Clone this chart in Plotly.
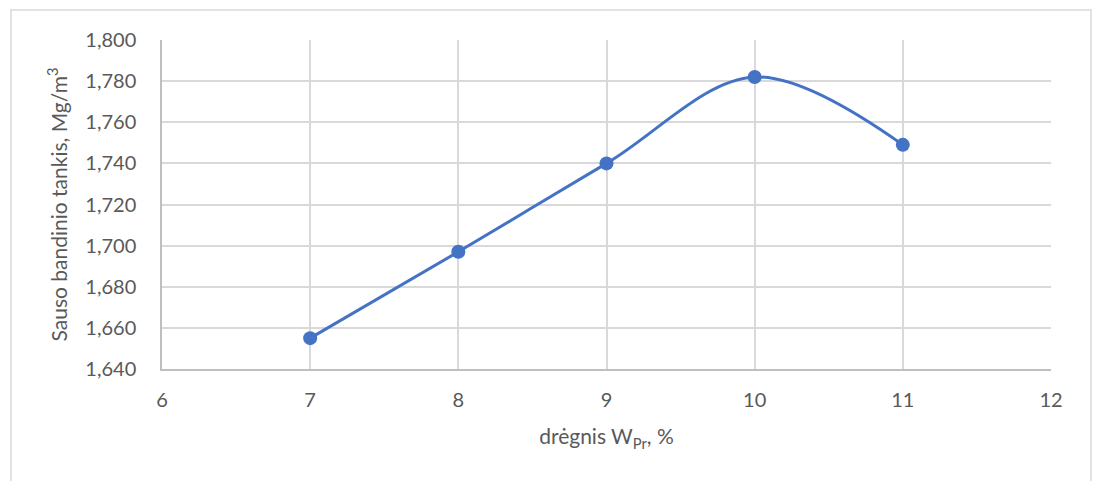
import plotly.graph_objects as go

# Moisture content (%) and dry density (Mg/m3)
moisture = [7, 8, 9, 10, 11]
dry_density = [1.655, 1.697, 1.740, 1.782, 1.749]

x_ticks = [6, 7, 8, 9, 10, 11, 12]
y_ticks = [1.640, 1.660, 1.680, 1.700, 1.720, 1.740, 1.760, 1.780, 1.800]

W, H = 1093, 481
L, R, T, B = 162, 42, 40, 112
pw, ph = W - L - R, H - T - B

def px_to_paper_x(px):
    return (px - L) / pw

def px_to_paper_y(py):
    return (H - B - py) / ph

font_family = "Lato, 'Open Sans', sans-serif"
text_col = "#595959"
grid_col = "#d9d9d9"

fig = go.Figure()
fig.add_trace(go.Scatter(
    x=moisture, y=dry_density,
    mode="lines+markers",
    line=dict(color="#4472C4", width=3, shape="spline", smoothing=1.0),
    marker=dict(color="#4472C4", size=14),
    showlegend=False,
))

fig.update_layout(
    width=W, height=H,
    margin=dict(l=L, r=R, t=T, b=B),
    paper_bgcolor="white", plot_bgcolor="white",
    separators=",.",
    font=dict(family=font_family, color=text_col, size=20),
    xaxis=dict(
        range=[6, 12], tickvals=x_ticks, ticktext=[str(v) for v in x_ticks],
        tickfont=dict(size=20, color=text_col),
        showgrid=True, gridcolor=grid_col, gridwidth=1.5,
        zeroline=False, showline=True, linecolor="#bfbfbf", linewidth=1.5,
        ticks="", ticklabelstandoff=12,
        title=dict(text="drėgnis W<sub>Pr</sub>, %", font=dict(size=21, color=text_col), standoff=20),
    ),
    yaxis=dict(
        range=[1.640, 1.800], tickvals=y_ticks, tickformat=".3f",
        tickfont=dict(size=20, color=text_col),
        showgrid=True, gridcolor=grid_col, gridwidth=1.5,
        zeroline=False, showline=True, linecolor="#bfbfbf", linewidth=1.5,
        ticks="", ticklabelstandoff=20,
        title=dict(text="Sauso bandinio tankis, Mg/m<sup>3</sup>", font=dict(size=21, color=text_col), standoff=12),
    ),
    shapes=[dict(
        type="rect", xref="paper", yref="paper",
        x0=px_to_paper_x(11), x1=px_to_paper_x(1091),
        y0=px_to_paper_y(500), y1=px_to_paper_y(10),
        line=dict(color="#d9d9d9", width=1.5), fillcolor="rgba(0,0,0,0)", layer="below",
    )],
)

fig.write_html("out.html")
